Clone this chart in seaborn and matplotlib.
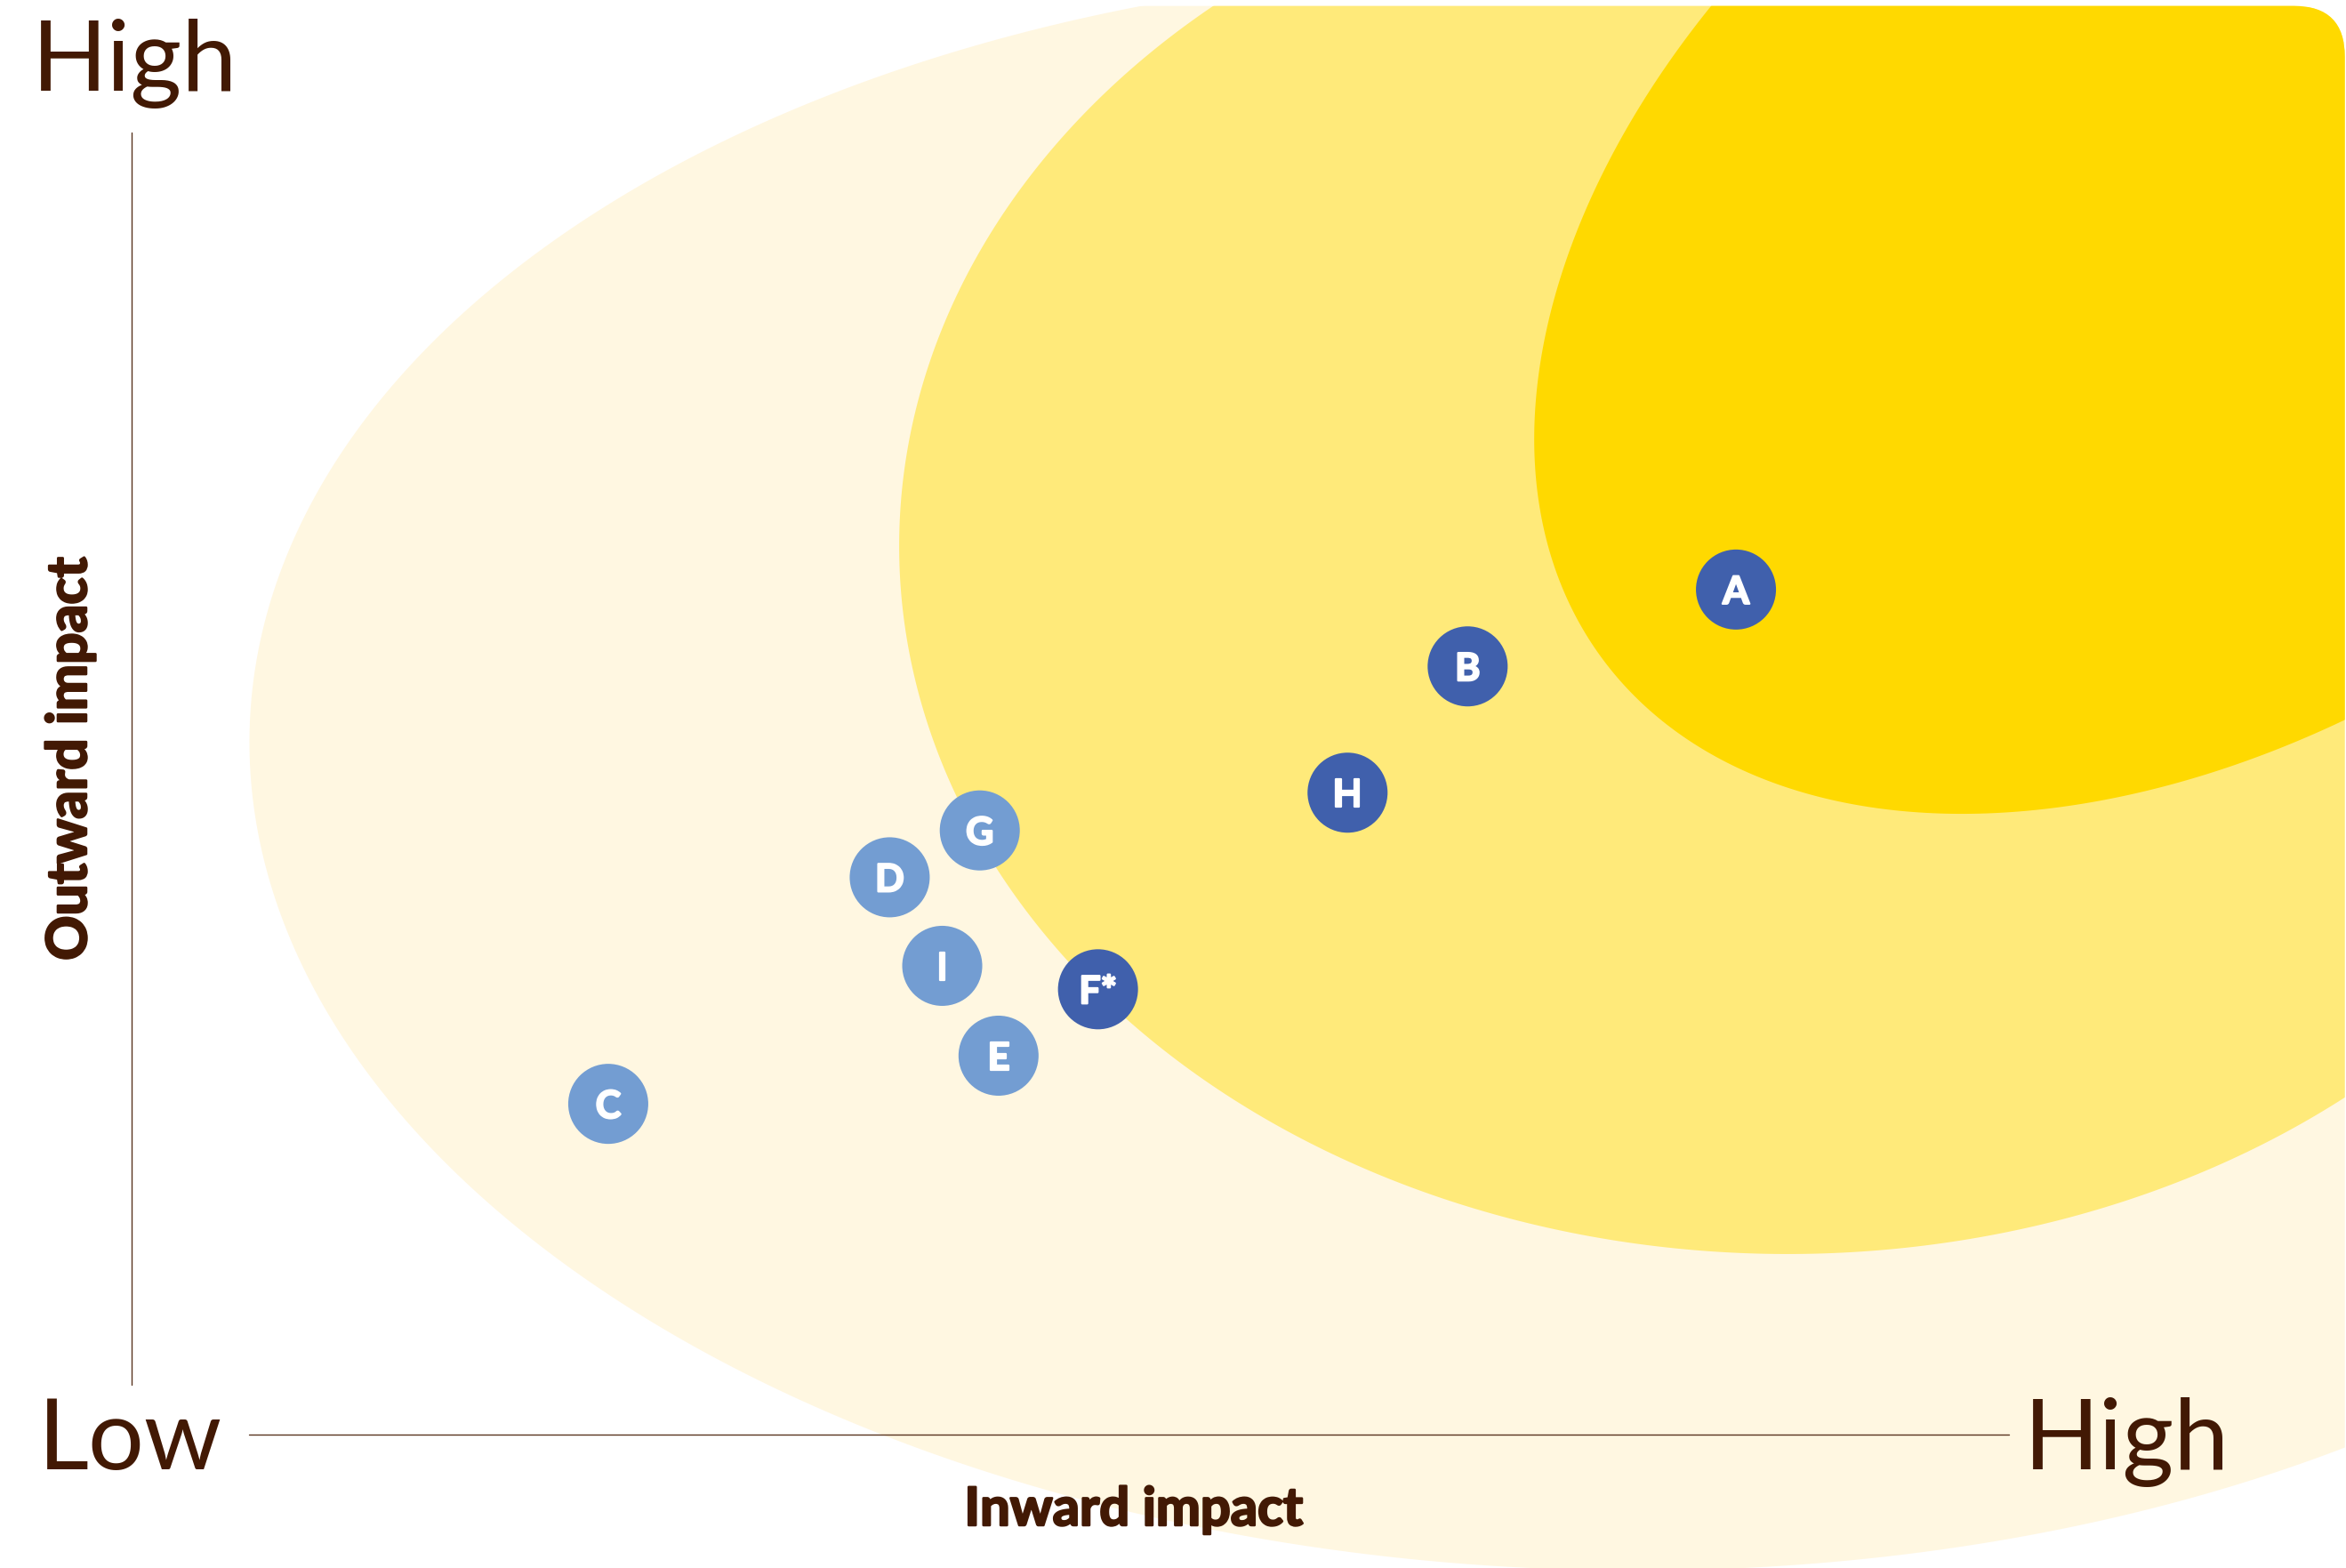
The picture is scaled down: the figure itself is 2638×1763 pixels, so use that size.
import numpy as np
import pandas as pd
import matplotlib
matplotlib.use('Agg')
import matplotlib.pyplot as plt
import matplotlib.patheffects as pe
from matplotlib.patches import FancyBboxPatch
import seaborn as sns

# 数据：各项目的内向/外向影响（0-10）
labels = ['A', 'B', 'C', 'D', 'E', 'F*', 'G', 'H', 'I']
inward = [8.55, 7.12, 2.54, 4.04, 4.62, 5.15, 4.52, 6.48, 4.32]
outward = [6.49, 5.90, 2.54, 4.28, 2.91, 3.42, 4.64, 4.93, 3.60]
group = ['dark', 'dark', 'light', 'light', 'light', 'dark', 'light', 'dark', 'light']

df = pd.DataFrame({'label': labels, 'inward': inward, 'outward': outward, 'group': group})

sns.set_style('white')
plt.rcParams['font.family'] = ['Lato', 'DejaVu Sans']

W, H = 2638, 1763
# 像素与数据单位的换算（坐标轴布局）
X0, SX = 148, 211.0
Y0, SY = 1613, 146.4

fig = plt.figure(figsize=(W / 100, H / 100), dpi=100)
ax = fig.add_axes([0, 0, 1, 1])
ax.set_xlim(-X0 / SX, (W - X0) / SX)
ax.set_ylim(-(H - Y0) / SY, Y0 / SY)
ax.set_axis_off()


def zone(cx, cy, a, b, ang):
    t = np.linspace(0, 2 * np.pi, 600)
    u, v = a * np.cos(t), b * np.sin(t)
    p = np.deg2rad(ang)
    dx = u * np.cos(p) - v * np.sin(p)
    dy = u * np.sin(p) + v * np.cos(p)
    return cx + dx / SX, cy + dy / SY


# 背景区域（圆角面板裁剪）
panel = FancyBboxPatch((-1, -1), W / 100 - 0.013 + 1, (H - 6.7) / 100 + 1,
                       boxstyle='round,pad=0,rounding_size=0.57',
                       transform=fig.dpi_scale_trans, facecolor='none', edgecolor='none')
zones = [
    (7.782, 5.109, 1510, 900, -1.8, '#FFF7E1'),
    (8.825, 6.824, 999, 796, 0, '#FFEA7A'),
    (11.16, 9.42, 865, 566, 35.4, '#FFD900'),
]
for cx, cy, a, b, ang, col in zones:
    zx, zy = zone(cx, cy, a, b, ang)
    poly = ax.fill(zx, zy, color=col, lw=0, zorder=1)[0]
    poly.set_clip_path(panel)

# 坐标轴线
line_col = '#5a3520'
ax.plot([0, 0], [(Y0 - 1557) / SY, (Y0 - 149) / SY], color=line_col, lw=1.0, zorder=2)
ax.plot([(280 - X0) / SX, (2259 - X0) / SX], [0, 0], color=line_col, lw=1.0, zorder=2)

# 散点
sns.scatterplot(data=df, x='inward', y='outward', hue='group',
                palette={'dark': '#4060AC', 'light': '#739DD2'},
                s=4200, edgecolor='none', legend=False, ax=ax, zorder=5)
for _, r in df.iterrows():
    ax.annotate(r['label'], (r['inward'], r['outward']), xytext=(0, -11.5),
                textcoords='offset points', ha='center', va='baseline',
                color='white', fontsize=31, fontweight='bold', zorder=6,
                path_effects=[pe.withStroke(linewidth=1.6, foreground='white')])

# 文字
txt = '#421904'
heavy = [pe.withStroke(linewidth=1.8, foreground=txt)]
fig.text(36 / W, 1 - 101.7 / H, 'High', fontsize=80, color=txt, ha='left', va='baseline')
fig.text(43 / W, 1 - 1651.7 / H, 'Low', fontsize=80, color=txt, ha='left', va='baseline')
fig.text(2276 / W, 1 - 1651.7 / H, 'High', fontsize=80, color=txt, ha='left', va='baseline')
fig.text(1275 / W, 1 - 1715 / H, 'Inward impact', fontsize=43, fontweight='bold',
         color=txt, ha='center', va='baseline', path_effects=heavy)
fig.text(97 / W, 1 - 853 / H, 'Outward impact', fontsize=45, fontweight='bold',
         color=txt, ha='center', va='baseline', rotation=90, rotation_mode='anchor',
         path_effects=heavy)

plt.savefig('out.png', dpi=100, facecolor='white')
